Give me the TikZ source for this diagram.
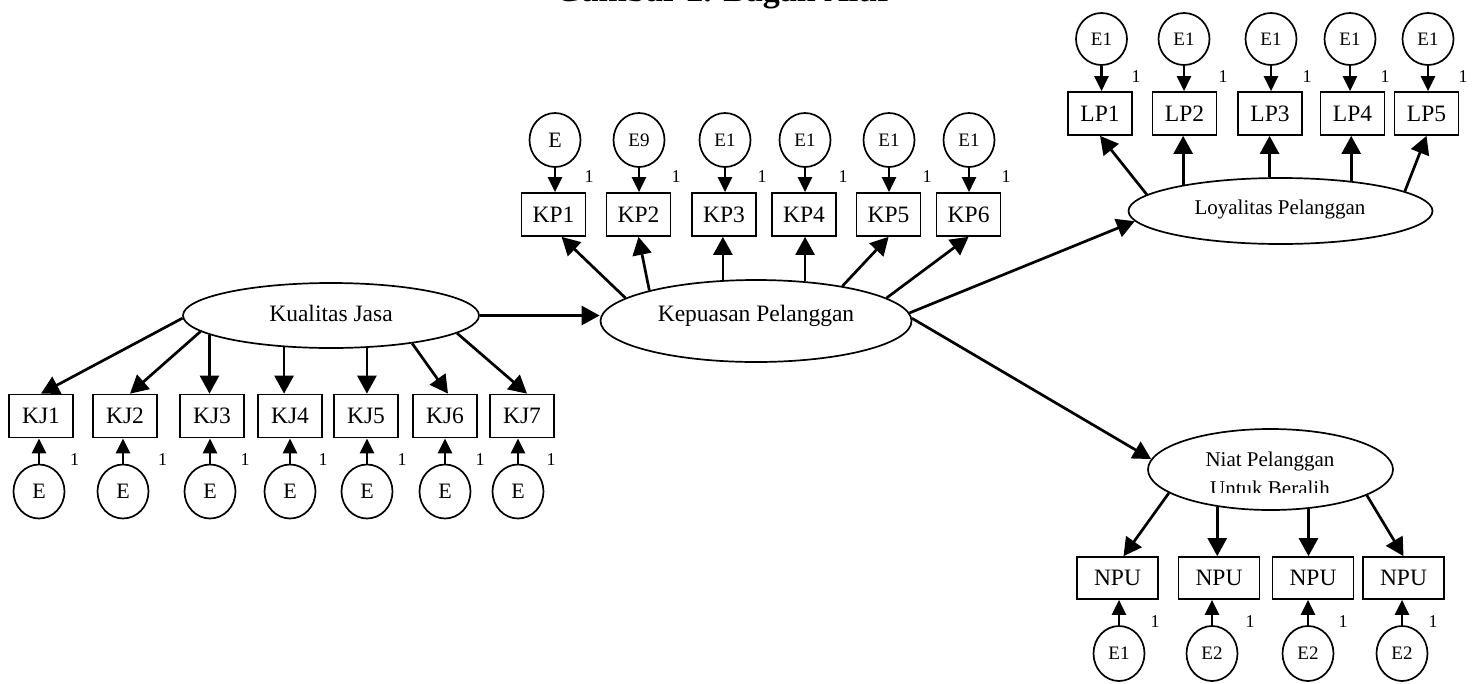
\documentclass[tikz,border=0pt]{standalone}
\usepackage{fontspec}
\setmainfont{Liberation Serif}
\usetikzlibrary{shapes.geometric,arrows.meta}
\begin{document}
\begin{tikzpicture}[x=1pt,y=-1pt,
  obs/.style={draw, line width=1.7pt, minimum width=64pt, minimum height=43pt, inner sep=0pt, font=\fontsize{23.5pt}{26pt}\selectfont},
  npu/.style={obs, minimum width=81pt, minimum height=42pt},
  err/.style={draw, ellipse, line width=1.7pt, minimum width=51pt, minimum height=54pt, inner sep=0pt},
  errbig/.style={err, font=\fontsize{22pt}{24pt}\selectfont},
  errsmall/.style={err, font=\fontsize{19pt}{21pt}\selectfont},
  lat/.style={draw, ellipse, line width=1.7pt, inner sep=0pt},
  lbla/.style={inner sep=0pt, anchor=base, font=\fontsize{23.5pt}{26pt}\selectfont},
  lblb/.style={inner sep=0pt, anchor=base, font=\fontsize{21pt}{23pt}\selectfont},
  one/.style={inner sep=0pt, font=\fontsize{18pt}{20pt}\selectfont},
  big/.style={line width=2.7pt, -{Triangle[length=18pt,width=19pt]}},
  small/.style={line width=2.7pt, -{Triangle[length=15pt,width=14pt]}},
  ttl/.style={inner sep=0pt, anchor=base west, font=\bfseries\fontsize{34pt}{36pt}\selectfont}
]
\useasboundingbox (0,0) rectangle (1477,683);
\clip (0,0) rectangle (1477,683);

% title (cut off at top edge, as in the reference)
\node[ttl] (title) at (555,1.5) {Gambar 2. Bagan Alur};

% latent variables
\node[lat, minimum width=296pt, minimum height=65pt] (kq) at (331,315.5) {};
\node[lbla] (kqt) at (331,321) {Kualitas Jasa};
\node[lat, minimum width=311pt, minimum height=82pt] (kp) at (756,321) {};
\node[lbla] (kpt) at (756,321.5) {Kepuasan Pelanggan};
\node[lat, minimum width=304pt, minimum height=66pt] (lo) at (1280.5,211) {};
\node[lblb] (lot) at (1280,214) {Loyalitas Pelanggan};
\node[lat, minimum width=245pt, minimum height=81pt] (nu) at (1270.5,469.5) {};
\node[lblb] (nut) at (1270,466.7) {Niat Pelanggan};
\begin{scope}
  \clip (1140,440) rectangle (1400,492.5);
  \node[lblb] (nut2) at (1270,495.5) {Untuk Beralih};
\end{scope}

% KJ indicators
\foreach \i/\bx/\ex/\lx in {1/41/39/74.6, 2/125/123/162.6, 3/212/210/245, 4/290/290/323, 5/366/367/402, 6/445/445/480, 7/522/518/551} {
  \node[obs] (kj\i) at (\bx,416) {KJ\i};
  \node[errbig] (ekj\i) at (\ex,491.5) {E};
  \node[one] (okj\i) at (\lx,460) {1};
  \draw[small] (ekj\i.north) -- (ekj\i.north |- kj\i.south);
}

% KP indicators
\foreach \i/\bx/\ex/\lx/\lab/\st in {1/553.6/555/589/E/errbig, 2/638.5/639/676/E9/errsmall, 3/724/725/762/E1/errsmall, 4/804/805/843/E1/errsmall, 5/888.6/889/927/E1/errsmall, 6/968.6/969/1006/E1/errsmall} {
  \node[obs] (kp\i) at (\bx,214.5) {KP\i};
  \node[\st] (ekp\i) at (\ex,140) {\lab};
  \node[one] (okp\i) at (\lx,177) {1};
  \draw[small] (ekp\i.south) -- (ekp\i.south |- kp\i.north);
}

% LP indicators
\foreach \i/\bx/\ex/\lx in {1/1100/1101.5/1136, 2/1184.5/1184/1223, 3/1270/1271/1307, 4/1352.5/1350/1385, 5/1426.5/1428/1463} {
  \node[obs] (lp\i) at (\bx,113.5) {LP\i};
  \node[errsmall, minimum height=52pt] (elp\i) at (\ex,39) {E1};
  \node[one] (olp\i) at (\lx,77) {1};
  \draw[small] (elp\i.south) -- (elp\i.south |- lp\i.north);
}

% NPU indicators
\foreach \i/\bx/\ex/\lx/\lab in {1/1117.5/1119/1155/E1, 2/1219/1212/1250/E2, 3/1313/1308/1343/E2, 4/1403.5/1402/1433/E2} {
  \node[npu] (np\i) at (\bx,578) {NPU};
  \node[errsmall, minimum height=55pt] (enp\i) at (\ex,653.5) {\lab};
  \node[one] (onp\i) at (\lx,622) {1};
  \draw[small] (enp\i.north) -- (enp\i.north |- np\i.south);
}

% structural paths
\draw[big] (kq.east) -- (kq.east -| kp.west);
\draw[big] (kp.3) -- (lo.184);
\draw[big] (kp.1) -- (nu.175);

% Kualitas Jasa loadings
\draw[big] (kq.181) -- (kj1.north);
\draw[big] (kq.187) -- ([xshift=5pt]kj2.north);
\draw[big] (kq.189) -- (kq.189 |- kj3.north);
\draw[big] (kq.214) -- (kq.214 |- kj4.north);
\draw[big] (kq.318) -- (kq.318 |- kj5.north);
\draw[big] (kq.341) -- ([xshift=3pt]kj6.north);
\draw[big] (kq.352) -- ([xshift=5pt]kj7.north);

% Kepuasan loadings
\draw[big] (kp.170) -- ([xshift=8pt]kp1.south);
\draw[big] (kp.164) -- (kp2.south);
\draw[big] (kp.129) -- (kp.129 |- kp3.south);
\draw[big] (kp.39) -- (kp.39 |- kp4.south);
\draw[big] (kp.22) -- (kp5.south);
\draw[big] (kp.10) -- (kp6.south);

% Loyalitas loadings
\draw[big] (lo.173) -- (lp1.south);
\draw[big] (lo.165) -- (lo.165 |- lp2.south);
\draw[big] (lo.108) -- (lo.108 |- lp3.south);
\draw[big] (lo.23) -- (lo.23 |- lp4.south);
\draw[big] (lo.9) -- (lp5.south);

% Niat loadings
\draw[big] (nu.193) -- ([xshift=6pt]np1.north);
\draw[big] (nu.215) -- (nu.215 |- np2.north);
\draw[big] (nu.314) -- (nu.314 |- np3.north);
\draw[big] (nu.345) -- (np4.north);
\end{tikzpicture}
\end{document}
